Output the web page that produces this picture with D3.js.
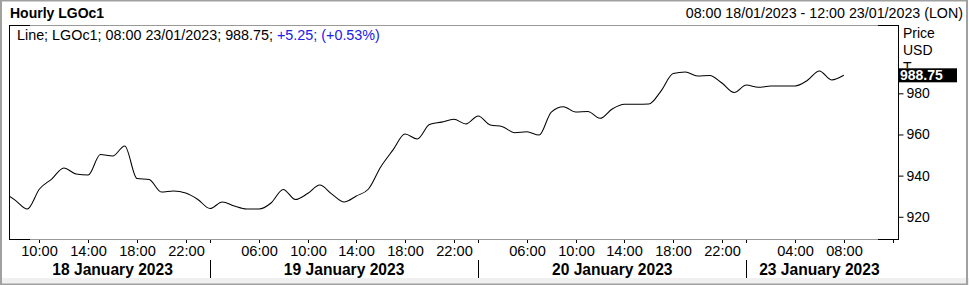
<!DOCTYPE html>
<html>
<head>
<meta charset="utf-8">
<script src="https://cdn.jsdelivr.net/npm/d3@7"></script>
<style>
  html, body { margin: 0; padding: 0; background: #fff; }
  svg { display: block; font-family: "Liberation Sans", Arial, sans-serif; }
</style>
</head>
<body>
<svg id="chart" width="969" height="285"></svg>
<script>
// ---- data ----
const sessionDates = ["2023-01-18", "2023-01-19", "2023-01-20", "2023-01-23"];
const sessionStartHours = [8, 2, 2, 0];
const sessionEndHours = [24, 24, 24, 12];
const dayLabels = ["18 January 2023", "19 January 2023", "20 January 2023", "23 January 2023"];
const tickHours = [[10, 14, 18, 22], [6, 10, 14, 18, 22], [6, 10, 14, 18, 22], [4, 8, 12]];
const tickLabels = [["10:00", "14:00", "18:00", "22:00"],
                    ["06:00", "10:00", "14:00", "18:00", "22:00"],
                    ["06:00", "10:00", "14:00", "18:00", "22:00"],
                    ["04:00", "08:00", ""]];

const timestamps = [
  "2023-01-18 07:00","2023-01-18 08:00","2023-01-18 09:00","2023-01-18 10:00","2023-01-18 11:00","2023-01-18 12:00",
  "2023-01-18 13:00","2023-01-18 14:00","2023-01-18 15:00","2023-01-18 16:00","2023-01-18 17:00","2023-01-18 18:00",
  "2023-01-18 19:00","2023-01-18 20:00","2023-01-18 21:00","2023-01-18 22:00","2023-01-18 23:00",
  "2023-01-19 02:00","2023-01-19 03:00","2023-01-19 04:00","2023-01-19 05:00","2023-01-19 06:00","2023-01-19 07:00",
  "2023-01-19 08:00","2023-01-19 09:00","2023-01-19 10:00","2023-01-19 11:00","2023-01-19 12:00","2023-01-19 13:00",
  "2023-01-19 14:00","2023-01-19 15:00","2023-01-19 16:00","2023-01-19 17:00","2023-01-19 18:00","2023-01-19 19:00",
  "2023-01-19 20:00","2023-01-19 21:00","2023-01-19 22:00","2023-01-19 23:00",
  "2023-01-20 02:00","2023-01-20 03:00","2023-01-20 04:00","2023-01-20 05:00","2023-01-20 06:00","2023-01-20 07:00",
  "2023-01-20 08:00","2023-01-20 09:00","2023-01-20 10:00","2023-01-20 11:00","2023-01-20 12:00","2023-01-20 13:00",
  "2023-01-20 14:00","2023-01-20 15:00","2023-01-20 16:00","2023-01-20 17:00","2023-01-20 18:00","2023-01-20 19:00",
  "2023-01-20 20:00","2023-01-20 21:00","2023-01-20 22:00","2023-01-20 23:00",
  "2023-01-23 00:00","2023-01-23 01:00","2023-01-23 02:00","2023-01-23 03:00","2023-01-23 04:00","2023-01-23 05:00",
  "2023-01-23 06:00","2023-01-23 07:00","2023-01-23 08:00"
];
const prices = [
  932.0, 928.1, 923.75, 933.5, 938.3, 943.7, 940.8, 940.3, 950.25, 949.5, 954.4, 938.6, 938.1, 932.0, 932.5, 931.5, 928.4,
  924.0, 927.2, 925.2, 923.75, 923.75, 926.7, 933.3, 928.4, 931.3, 935.4, 931.0, 927.2, 930.1, 933.5, 944.2, 952.4,
  960.2, 957.8, 964.8, 966.0, 967.4, 965.1,
  969.0, 964.6, 963.8, 960.85, 961.3, 959.7, 970.9, 973.5, 970.9, 971.15, 967.85, 972.4, 974.65, 974.65, 974.8, 981.1,
  989.6, 990.35, 988.4, 988.65, 985.0, 980.4,
  984.0, 982.9, 983.55, 983.55, 983.55, 986.2, 990.85, 986.5, 988.75
];
const yTicks = [920, 940, 960, 980];
const lastPrice = 988.75;
const titleText = "Hourly LGOc1";
const rangeText = "08:00 18/01/2023 - 12:00 23/01/2023 (LON)";
const legendBlack = "Line; LGOc1; 08:00 23/01/2023; 988.75; ";
const legendBlue = "+5.25; (+0.53%)";
const yAxisTitle = ["Price", "USD", "T"];

// ---- trading-hour index (gaps removed) ----
const sessionOffsets = [];
{ let acc = 0; sessionDates.forEach((d, k) => { sessionOffsets.push(acc); acc += sessionEndHours[k] - sessionStartHours[k]; }); }
function tIndex(dateStr, hour) {
  const k = sessionDates.indexOf(dateStr);
  return sessionOffsets[k] + hour - sessionStartHours[k];
}
const data = timestamps.map((t, i) => {
  const [d, hm] = t.split(" ");
  return { idx: tIndex(d, +hm.split(":")[0]), v: prices[i] };
});

// ---- layout ----
const W = 969, H = 285;
const plot = { left: 9, right: 898, top: 25, bottom: 239 };
const svg = d3.select("#chart");

const x = d3.scaleLinear().domain([-0.5, 72.45]).range([plot.left, plot.right]);
const y = d3.scaleLinear().domain([909.2, 1013.2]).range([plot.bottom, plot.top]);

// outer frame
svg.append("rect").attr("x", 0).attr("y", 0).attr("width", W).attr("height", H).attr("fill", "#fff");
svg.append("rect").attr("x", 0).attr("y", 278).attr("width", W).attr("height", 7).attr("fill", "#f0f0f0");
svg.append("rect").attr("x", 1).attr("y", 0.5).attr("width", 966).attr("height", 284)
   .attr("fill", "none").attr("stroke", "#a0a0a0").attr("stroke-width", 2);

// titles
svg.append("text").attr("x", 10).attr("y", 18).attr("font-size", 14).attr("font-weight", "bold")
   .attr("fill", "#000").text(titleText);
svg.append("text").attr("x", 963).attr("y", 18).attr("font-size", 14.25).attr("text-anchor", "end")
   .attr("fill", "#000").text(rangeText);

// plot frame
const g = svg.append("g");
g.append("line").attr("x1", plot.left).attr("x2", plot.right).attr("y1", plot.top + 0.5).attr("y2", plot.top + 0.5)
  .attr("stroke", "#999");
g.append("line").attr("x1", plot.left).attr("x2", plot.right).attr("y1", plot.bottom + 0.5).attr("y2", plot.bottom + 0.5)
  .attr("stroke", "#999");
[[plot.left, plot.left + 21], [plot.right - 20, plot.right]].forEach(([a, b]) => {
  [plot.top, plot.bottom].forEach(yy => {
    g.append("line").attr("x1", a).attr("x2", b).attr("y1", yy + 0.5).attr("y2", yy + 0.5).attr("stroke", "#000");
  });
});
g.append("line").attr("x1", plot.left + 0.5).attr("x2", plot.left + 0.5).attr("y1", plot.top).attr("y2", plot.bottom + 1)
  .attr("stroke", "#000");
g.append("line").attr("x1", plot.right + 0.5).attr("x2", plot.right + 0.5).attr("y1", plot.top).attr("y2", plot.bottom + 1)
  .attr("stroke", "#000");

// clip + line
svg.append("clipPath").attr("id", "clip").append("rect")
  .attr("x", plot.left + 1).attr("y", plot.top + 1)
  .attr("width", plot.right - plot.left - 1).attr("height", plot.bottom - plot.top - 1);
const line = d3.line().x(d => x(d.idx)).y(d => y(d.v)).curve(d3.curveMonotoneX);
svg.append("path").datum(data).attr("clip-path", "url(#clip)")
  .attr("d", line).attr("fill", "none").attr("stroke", "#000").attr("stroke-width", 1.05);

// legend
const leg = svg.append("text").attr("x", 17).attr("y", 40).attr("font-size", 14.35);
leg.append("tspan").attr("fill", "#000").text(legendBlack);
leg.append("tspan").attr("fill", "#2020e6").text(legendBlue);

// y axis
const yAxis = d3.axisRight(y).tickValues(yTicks).tickSize(5).tickPadding(3).tickFormat(d3.format("d"));
const ya = svg.append("g").attr("transform", `translate(${plot.right + 0.5},0)`).call(yAxis);
ya.select(".domain").remove();
ya.selectAll("text").attr("font-size", 14).attr("font-family", "Liberation Sans, Arial, sans-serif").attr("fill", "#000");
ya.selectAll("line").attr("stroke", "#000");

const lpY = y(lastPrice);
svg.append("clipPath").attr("id", "clipT").append("rect")
  .attr("x", plot.right + 1).attr("y", 0).attr("width", 70).attr("height", lpY - 7);
yAxisTitle.forEach((t, k) => {
  svg.append("text").attr("x", 903).attr("y", 38 + k * 17).attr("font-size", 14).attr("fill", "#000")
    .attr("clip-path", k === yAxisTitle.length - 1 ? "url(#clipT)" : null).text(t);
});
// last price tag
svg.append("rect").attr("x", plot.right + 1).attr("y", lpY - 7).attr("width", 58).attr("height", 14).attr("fill", "#000");
svg.append("text").attr("x", plot.right + 2).attr("y", lpY + 5).attr("font-size", 14).attr("font-weight", "bold")
  .attr("fill", "#fff").text(d3.format(".2f")(lastPrice));

// x axis ticks & labels
const xa = svg.append("g");
sessionDates.forEach((d, k) => {
  tickHours[k].forEach((h, j) => {
    const xx = Math.round(x(tIndex(d, h))) + 0.5;
    xa.append("line").attr("x1", xx).attr("x2", xx).attr("y1", plot.bottom + 1).attr("y2", plot.bottom + 4).attr("stroke", "#000");
    xa.append("text").attr("x", xx).attr("y", 256).attr("font-size", 14.6).attr("text-anchor", "middle")
      .attr("fill", "#000").text(tickLabels[k][j]);
  });
  if (k > 0) {
    const xs = Math.round(x(sessionOffsets[k])) + 0.5;
    xa.append("line").attr("x1", xs).attr("x2", xs).attr("y1", plot.bottom + 1).attr("y2", plot.bottom + 4).attr("stroke", "#000");
    xa.append("line").attr("x1", xs).attr("x2", xs).attr("y1", 260).attr("y2", 278).attr("stroke", "#000");
  }
  const mid = (sessionOffsets[k] + sessionOffsets[k] + sessionEndHours[k] - sessionStartHours[k]) / 2;
  xa.append("text").attr("x", x(mid)).attr("y", 274.5).attr("font-size", 15.6).attr("font-weight", "bold")
    .attr("text-anchor", "middle").attr("fill", "#000").text(dayLabels[k]);
});
</script>
</body>
</html>
